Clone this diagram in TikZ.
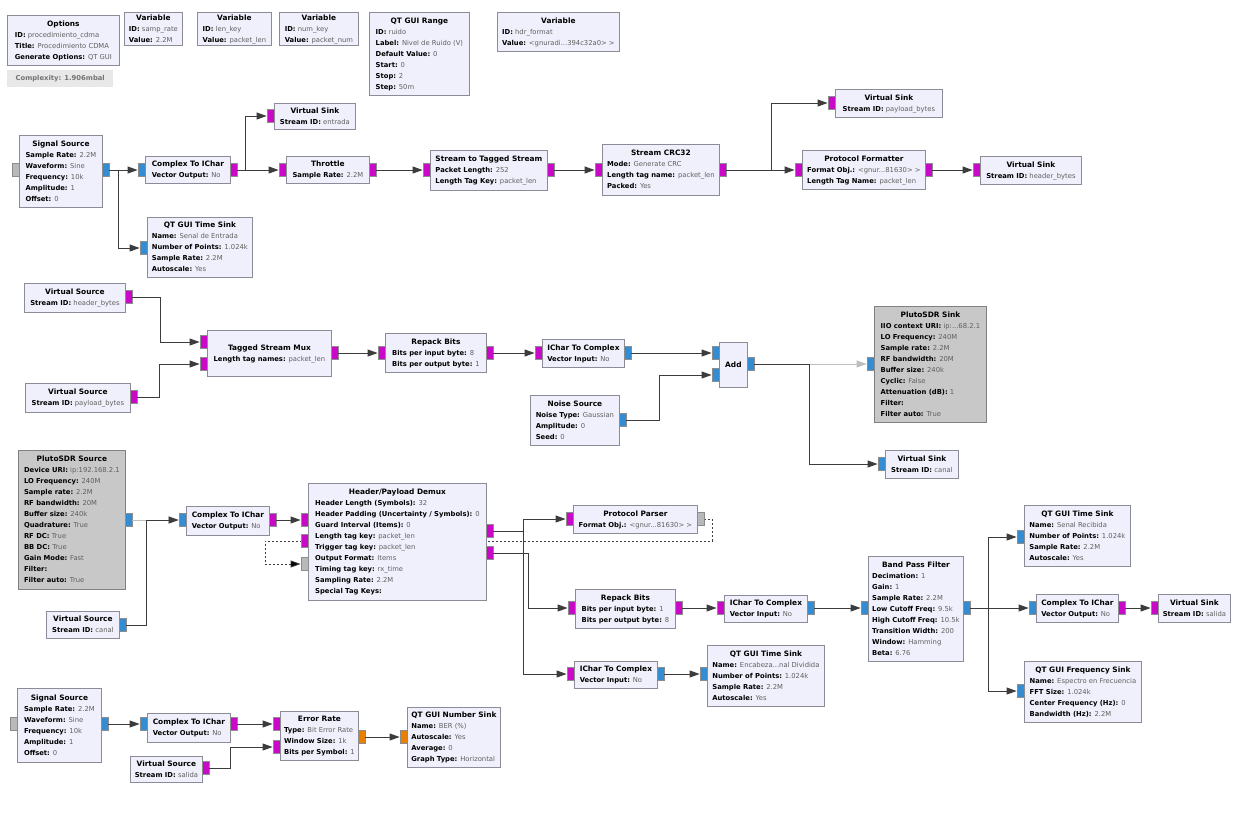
\documentclass[tikz,border=0pt]{standalone}
\usepackage{fontspec}
\setmainfont{DejaVu Sans}
\usetikzlibrary{arrows.meta}
\definecolor{bfill}{RGB}{240,240,252}
\definecolor{bdraw}{RGB}{140,140,152}
\definecolor{dfill}{RGB}{200,200,200}
\definecolor{ddraw}{RGB}{128,128,128}
\definecolor{cplx}{RGB}{52,140,210}
\definecolor{byte}{RGB}{200,10,200}
\definecolor{flt}{RGB}{230,128,0}
\definecolor{msgc}{RGB}{185,185,185}
\definecolor{valc}{RGB}{95,95,95}
\definecolor{lc}{RGB}{60,60,60}
\definecolor{lgray}{RGB}{190,190,190}
\definecolor{cfill}{RGB}{232,232,232}
\pgfdeclarelayer{bgzero}
\pgfdeclarelayer{bgone}
\pgfsetlayers{bgzero,bgone,main}
\newcommand\kv[2]{\textbf{#1:} \textcolor{valc}{#2}}
\newcommand\ttl[1]{\multicolumn{1}{@{}c@{}}{\fontsize{7.4}{11}\selectfont\bfseries #1}}
\newcommand\blk[6][]{\node[blk,#1,minimum width=#4pt,minimum height=#5pt,anchor=north west] (#2) at (#3) {\begin{tabular}{@{}l@{}}#6\end{tabular}};}
\newcommand\pin[4]{\node[portbox,fill=#4,anchor=#2] (#1) at (#3) {};}
\tikzset{
  blk/.style={draw=bdraw, fill=bfill, line width=0.8pt, inner sep=0pt, font=\fontsize{6.8}{11}\selectfont, text=black},
  dis/.style={fill=dfill, draw=ddraw},
  portbox/.style={minimum width=7pt, minimum height=13pt, inner sep=0pt, draw=black!45, line width=0.4pt},
  conn/.style={draw=lc, line width=0.9pt, -{Triangle[length=10pt,width=7pt]}},
  gconn/.style={draw=lgray, line width=0.9pt, -{Triangle[length=10pt,width=7pt,fill=lgray]}},
  msgline/.style={draw=lc, line width=0.8pt, dash pattern=on 2pt off 2pt, -{Triangle[length=10pt,width=7pt,fill=black]}},
}
\begin{document}
\begin{tikzpicture}[x=1pt,y=-1pt]
\begin{pgfonlayer}{bgzero}
\fill[white] (0,0) rectangle (1239,831);
\end{pgfonlayer}
\useasboundingbox (0,0) rectangle (1239,831);

% ---------- top variables ----------
\blk{opts}{7,15}{112}{50}{\ttl{Options}\\ \kv{ID}{procedimiento\_cdma}\\ \kv{Title}{Procedimiento CDMA}\\ \kv{Generate Options}{QT GUI}}
\node[fill=cfill, inner sep=0pt, minimum width=106pt, minimum height=17pt, anchor=north west, font=\fontsize{6.8}{8}\selectfont\bfseries, text=black!55] (cplxlbl) at (7,70) {Complexity: 1.906mbal};
\blk{var1}{124,12}{58}{30}{\ttl{Variable}\\ \kv{ID}{samp\_rate}\\ \kv{Value}{2.2M}}
\blk{var2}{197,12}{74}{30}{\ttl{Variable}\\ \kv{ID}{len\_key}\\ \kv{Value}{packet\_len}}
\blk{var3}{279,12}{79}{30}{\ttl{Variable}\\ \kv{ID}{num\_key}\\ \kv{Value}{packet\_num}}
\blk{range}{369,12}{100}{83}{\ttl{QT GUI Range}\\ \kv{ID}{ruido}\\ \kv{Label}{Nivel de Ruido (V)}\\ \kv{Default Value}{0}\\ \kv{Start}{0}\\ \kv{Stop}{2}\\ \kv{Step}{50m}}
\blk{var4}{497,12}{122}{39}{\ttl{Variable}\\ \kv{ID}{hdr\_format}\\ \kv{Value}{<gnuradi...394c32a0> >}}

% ---------- transmitter top row ----------
\blk{ssa}{19,135}{83}{72}{\ttl{Signal Source}\\ \kv{Sample Rate}{2.2M}\\ \kv{Waveform}{Sine}\\ \kv{Frequency}{10k}\\ \kv{Amplitude}{1}\\ \kv{Offset}{0}}
\pin{ssa-m}{east}{19,170}{msgc}
\pin{ssa-o}{west}{102,170}{cplx}
\blk{cta}{145,156}{85}{27}{\ttl{Complex To IChar}\\ \kv{Vector Output}{No}}
\pin{cta-i}{east}{145,170}{cplx}
\pin{cta-o}{west}{230,170}{byte}
\blk{vske}{274,103}{81}{26}{\ttl{Virtual Sink}\\ \kv{Stream ID}{entrada}}
\pin{vske-i}{east}{274,116}{byte}
\blk{thr}{286,156}{83}{27}{\ttl{Throttle}\\ \kv{Sample Rate}{2.2M}}
\pin{thr-i}{east}{286,170}{byte}
\pin{thr-o}{west}{369,170}{byte}
\blk{tsa}{147,217}{105}{60}{\ttl{QT GUI Time Sink}\\ \kv{Name}{Senal de Entrada}\\ \kv{Number of Points}{1.024k}\\ \kv{Sample Rate}{2.2M}\\ \kv{Autoscale}{Yes}}
\pin{tsa-i}{east}{147,248}{cplx}
\blk{sts}{430,150}{117}{40}{\ttl{Stream to Tagged Stream}\\ \kv{Packet Length}{252}\\ \kv{Length Tag Key}{packet\_len}}
\pin{sts-i}{east}{430,170}{byte}
\pin{sts-o}{west}{547,170}{byte}
\blk{crc}{602,144}{117}{51}{\ttl{Stream CRC32}\\ \kv{Mode}{Generate CRC}\\ \kv{Length tag name}{packet\_len}\\ \kv{Packed}{Yes}}
\pin{crc-i}{east}{602,170}{byte}
\pin{crc-o}{west}{719,170}{byte}
\blk{vskp}{835,89}{107}{28}{\ttl{Virtual Sink}\\ \kv{Stream ID}{payload\_bytes}}
\pin{vskp-i}{east}{835,103}{byte}
\blk{pfmt}{802,150}{123}{39}{\ttl{Protocol Formatter}\\ \kv{Format Obj.}{<gnur...81630> >}\\ \kv{Length Tag Name}{packet\_len}}
\pin{pfmt-i}{east}{802,170}{byte}
\pin{pfmt-o}{west}{925,170}{byte}
\blk{vskh}{980,156}{101}{28}{\ttl{Virtual Sink}\\ \kv{Stream ID}{header\_bytes}}
\pin{vskh-i}{east}{980,170}{byte}

% ---------- transmitter middle row ----------
\blk{vsoh}{24,283}{101}{29}{\ttl{Virtual Source}\\ \kv{Stream ID}{header\_bytes}}
\pin{vsoh-o}{west}{125,297}{byte}
\blk{vsop}{25,383}{105}{29}{\ttl{Virtual Source}\\ \kv{Stream ID}{payload\_bytes}}
\pin{vsop-o}{west}{130,397}{byte}
\blk{tsm}{207,330}{124}{46}{\ttl{Tagged Stream Mux}\\ \kv{Length tag names}{packet\_len}}
\pin{tsm-ia}{east}{207,342}{byte}
\pin{tsm-ib}{east}{207,364}{byte}
\pin{tsm-o}{west}{331,353}{byte}
\blk{rba}{385,333}{101}{39}{\ttl{Repack Bits}\\ \kv{Bits per input byte}{8}\\ \kv{Bits per output byte}{1}}
\pin{rba-i}{east}{385,353}{byte}
\pin{rba-o}{west}{486,353}{byte}
\blk{ica}{542,339}{82}{28}{\ttl{IChar To Complex}\\ \kv{Vector Input}{No}}
\pin{ica-i}{east}{542,353}{byte}
\pin{ica-o}{west}{624,353}{cplx}
\blk{add}{719,342}{28}{45}{\ttl{Add}}
\pin{add-ia}{east}{719,353}{cplx}
\pin{add-ib}{east}{719,375}{cplx}
\pin{add-o}{west}{747,364}{cplx}
\blk{noise}{530,395}{89}{50}{\ttl{Noise Source}\\ \kv{Noise Type}{Gaussian}\\ \kv{Amplitude}{0}\\ \kv{Seed}{0}}
\pin{noise-o}{west}{619,420}{cplx}
\blk[dis]{psink}{874,306}{112}{116}{\ttl{PlutoSDR Sink}\\ \kv{IIO context URI}{ip:...68.2.1}\\ \kv{LO Frequency}{240M}\\ \kv{Sample rate}{2.2M}\\ \kv{RF bandwidth}{20M}\\ \kv{Buffer size}{240k}\\ \kv{Cyclic}{False}\\ \kv{Attenuation (dB)}{1}\\ \textbf{Filter:}\\ \kv{Filter auto}{True}}
\pin{psink-i}{east}{874,364}{cplx}
\blk{vskc}{885,450}{73}{28}{\ttl{Virtual Sink}\\ \kv{Stream ID}{canal}}
\pin{vskc-i}{east}{885,464}{cplx}

% ---------- receiver ----------
\blk[dis]{psrc}{18,450}{107}{139}{\ttl{PlutoSDR Source}\\ \kv{Device URI}{ip:192.168.2.1}\\ \kv{LO Frequency}{240M}\\ \kv{Sample rate}{2.2M}\\ \kv{RF bandwidth}{20M}\\ \kv{Buffer size}{240k}\\ \kv{Quadrature}{True}\\ \kv{RF DC}{True}\\ \kv{BB DC}{True}\\ \kv{Gain Mode}{Fast}\\ \textbf{Filter:}\\ \kv{Filter auto}{True}}
\pin{psrc-o}{west}{125,520}{cplx}
\blk{vsoc}{46,611}{73}{27}{\ttl{Virtual Source}\\ \kv{Stream ID}{canal}}
\pin{vsoc-o}{west}{119,625}{cplx}
\blk{ctb}{186,506}{83}{29}{\ttl{Complex To IChar}\\ \kv{Vector Output}{No}}
\pin{ctb-i}{east}{186,520}{cplx}
\pin{ctb-o}{west}{269,520}{byte}
\blk{dmx}{308,483}{178}{117}{\ttl{Header/Payload Demux}\\ \kv{Header Length (Symbols)}{32}\\ \kv{Header Padding (Uncertainty / Symbols)}{0}\\ \kv{Guard Interval (Items)}{0}\\ \kv{Length tag key}{packet\_len}\\ \kv{Trigger tag key}{packet\_len}\\ \kv{Output Format}{Items}\\ \kv{Timing tag key}{rx\_time}\\ \kv{Sampling Rate}{2.2M}\\ \textbf{Special Tag Keys:}}
\pin{dmx-ia}{east}{308,520}{byte}
\pin{dmx-ib}{east}{308,541}{byte}
\pin{dmx-im}{east}{308,564}{msgc}
\pin{dmx-oa}{west}{486,531}{byte}
\pin{dmx-ob}{west}{486,553}{byte}
\blk{ppar}{573,505}{124}{28}{\ttl{Protocol Parser}\\ \kv{Format Obj.}{<gnur...81630> >}}
\pin{ppar-i}{east}{573,519}{byte}
\pin{ppar-o}{west}{697,519}{msgc}
\blk{rbb}{575,589}{100}{39}{\ttl{Repack Bits}\\ \kv{Bits per input byte}{1}\\ \kv{Bits per output byte}{8}}
\pin{rbb-i}{east}{575,608}{byte}
\pin{rbb-o}{west}{675,608}{byte}
\blk{icb}{724,595}{83}{27}{\ttl{IChar To Complex}\\ \kv{Vector Input}{No}}
\pin{icb-i}{east}{724,608}{byte}
\pin{icb-o}{west}{807,608}{cplx}
\blk{icc}{574,661}{83}{27}{\ttl{IChar To Complex}\\ \kv{Vector Input}{No}}
\pin{icc-i}{east}{574,674}{byte}
\pin{icc-o}{west}{657,674}{cplx}
\blk{tsb}{707,645}{117}{61}{\ttl{QT GUI Time Sink}\\ \kv{Name}{Encabeza...nal Dividida}\\ \kv{Number of Points}{1.024k}\\ \kv{Sample Rate}{2.2M}\\ \kv{Autoscale}{Yes}}
\pin{tsb-i}{east}{707,674}{cplx}
\blk{bpf}{868,556}{95}{105}{\ttl{Band Pass Filter}\\ \kv{Decimation}{1}\\ \kv{Gain}{1}\\ \kv{Sample Rate}{2.2M}\\ \kv{Low Cutoff Freq}{9.5k}\\ \kv{High Cutoff Freq}{10.5k}\\ \kv{Transition Width}{200}\\ \kv{Window}{Hamming}\\ \kv{Beta}{6.76}}
\pin{bpf-i}{east}{868,608}{cplx}
\pin{bpf-o}{west}{963,608}{cplx}
\blk{tsc}{1024,505}{106}{61}{\ttl{QT GUI Time Sink}\\ \kv{Name}{Senal Recibida}\\ \kv{Number of Points}{1.024k}\\ \kv{Sample Rate}{2.2M}\\ \kv{Autoscale}{Yes}}
\pin{tsc-i}{east}{1024,537}{cplx}
\blk{ctc}{1036,594}{82}{28}{\ttl{Complex To IChar}\\ \kv{Vector Output}{No}}
\pin{ctc-i}{east}{1036,608}{cplx}
\pin{ctc-o}{west}{1118,608}{byte}
\blk{vsks}{1158,594}{72}{28}{\ttl{Virtual Sink}\\ \kv{Stream ID}{salida}}
\pin{vsks-i}{east}{1158,608}{byte}
\blk{fsk}{1024,661}{117}{61}{\ttl{QT GUI Frequency Sink}\\ \kv{Name}{Espectro en Frecuencia}\\ \kv{FFT Size}{1.024k}\\ \kv{Center Frequency (Hz)}{0}\\ \kv{Bandwidth (Hz)}{2.2M}}
\pin{fsk-i}{east}{1024,691}{cplx}

% ---------- BER row ----------
\blk{ssb}{17,688}{84}{74}{\ttl{Signal Source}\\ \kv{Sample Rate}{2.2M}\\ \kv{Waveform}{Sine}\\ \kv{Frequency}{10k}\\ \kv{Amplitude}{1}\\ \kv{Offset}{0}}
\pin{ssb-m}{east}{17,724}{msgc}
\pin{ssb-o}{west}{101,724}{cplx}
\blk{ctd}{147,713}{83}{29}{\ttl{Complex To IChar}\\ \kv{Vector Output}{No}}
\pin{ctd-i}{east}{147,724}{cplx}
\pin{ctd-o}{west}{230,724}{byte}
\blk{err}{280,711}{78}{49}{\ttl{Error Rate}\\ \kv{Type}{Bit Error Rate}\\ \kv{Window Size}{1k}\\ \kv{Bits per Symbol}{1}}
\pin{err-ia}{east}{280,724}{byte}
\pin{err-ib}{east}{280,747}{byte}
\pin{err-o}{west}{358,737}{flt}
\blk{nsk}{407,707}{93}{60}{\ttl{QT GUI Number Sink}\\ \kv{Name}{BER (\%)}\\ \kv{Autoscale}{Yes}\\ \kv{Average}{0}\\ \kv{Graph Type}{Horizontal}}
\pin{nsk-i}{east}{407,737}{flt}
\blk{vsos}{130,756}{72}{26}{\ttl{Virtual Source}\\ \kv{Stream ID}{salida}}
\pin{vsos-o}{west}{202,768}{byte}

% ---------- message connection (behind blocks) ----------
\coordinate (mra) at (712,541);
\coordinate (mrb) at (265,541);
\begin{pgfonlayer}{bgone}
\draw[msgline] (ppar-o.east) -| (mra) -- (mrb) |- (dmx-im.west);
\end{pgfonlayer}

% ---------- connections ----------
\draw[conn] (ssa-o) -- (cta-i);
\draw[conn] (ssa-o.east) -- ++(9,0) |- (tsa-i.west);
\draw[conn] (cta-o) -- (thr-i);
\draw[conn] (cta-o.east) -- ++(8,0) |- (vske-i.west);
\draw[conn] (thr-o) -- (sts-i);
\draw[conn] (sts-o) -- (crc-i);
\draw[conn] (crc-o) -- (pfmt-i);
\draw[conn] (crc-o.east) -- ++(45,0) |- (vskp-i.west);
\draw[conn] (pfmt-o) -- (vskh-i);

\draw[conn] (vsoh-o.east) -- ++(28,0) |- (tsm-ia.west);
\draw[conn] (vsop-o.east) -- ++(22,0) |- (tsm-ib.west);
\draw[conn] (tsm-o) -- (rba-i);
\draw[conn] (rba-o) -- (ica-i);
\draw[conn] (ica-o) -- (add-ia);
\draw[conn] (noise-o.east) -- ++(33,0) |- (add-ib.west);
\draw[gconn] (add-o) -- (psink-i);
\draw[conn, -] (add-o.east) -- ++(55,0);
\draw[conn] (add-o.east) -- ++(55,0) |- (vskc-i.west);

\draw[gconn] (psrc-o) -- (ctb-i);
\draw[conn] (vsoc-o.east) -- ++(20,0) |- (ctb-i.west);
\draw[conn] (ctb-o) -- (dmx-ia);
\draw[conn] (dmx-oa.east) -- ++(30,0) |- (ppar-i.west);
\draw[conn] (dmx-oa.east) -- ++(30,0) |- (icc-i.west);
\draw[conn] (dmx-ob.east) -- ++(35,0) |- (rbb-i.west);
\draw[conn] (rbb-o) -- (icb-i);
\draw[conn] (icb-o) -- (bpf-i);
\draw[conn] (icc-o) -- (tsb-i);
\draw[conn] (bpf-o.east) -- ++(18,0) |- (tsc-i.west);
\draw[conn] (bpf-o) -- (ctc-i);
\draw[conn] (bpf-o.east) -- ++(18,0) |- (fsk-i.west);
\draw[conn] (ctc-o) -- (vsks-i);

\draw[conn] (ssb-o) -- (ctd-i);
\draw[conn] (ctd-o) -- (err-ia);
\draw[conn] (vsos-o.east) -- ++(21,0) |- (err-ib.west);
\draw[conn] (err-o) -- (nsk-i);
\end{tikzpicture}
\end{document}
